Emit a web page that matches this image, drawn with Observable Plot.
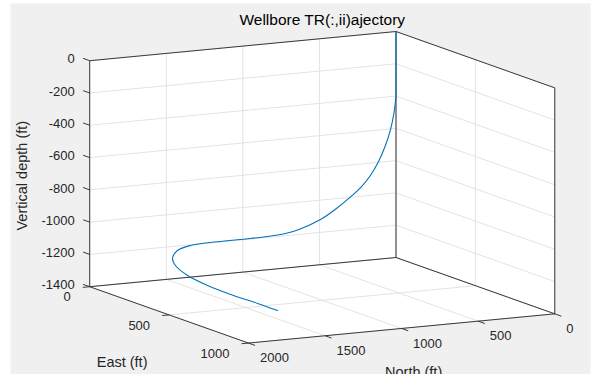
<!DOCTYPE html>
<html><head><meta charset="utf-8">
<script src="https://cdn.jsdelivr.net/npm/d3@7"></script>
<script src="https://cdn.jsdelivr.net/npm/@observablehq/plot@0.6"></script>
<style>
html,body{margin:0;padding:0;background:#fff;}
#chart svg{display:block;}
</style></head><body><div id="chart"></div>
<script>
// ---------- data ----------
const title = "Wellbore TR(:,ii)ajectory";
const eastLabel = "East (ft)", northLabel = "North (ft)", depthLabel = "Vertical depth (ft)";
const east  = [0,0,0,0,0,0,0,0,0,0,0,0,0,0,0,0,0,0,51,149,244,392,548,716,853,972];
const north = [0,0,0,3,14,36,69,114,167,225,297,389,493,643,774,950,1166,1342,1480,1614,1693,1767,1799,1803,1788,1781];
const depth = [0,-300,-400,-427,-507,-604,-700,-795,-877,-940,-998,-1061,-1120,-1171,-1191,-1196,-1197,-1204,-1205,-1208,-1211,-1215,-1219,-1222,-1225,-1228];
const eastTicks  = [0,500,1000];
const northTicks = [0,500,1000,1500,2000];
const depthTicks = [0,-200,-400,-600,-800,-1000,-1200,-1400];
const eastLim = [0,1000], northLim = [0,2000], depthLim = [-1400,0];

// ---------- 3D view (MATLAB-like azimuth / elevation) ----------
const AZ = 27.4*Math.PI/180, EL = 10.6*Math.PI/180;
const BOX = 345, BOXZ = 226, ORIGIN = [395.5, 257];
function project(e, n, z) {
  const u = (e-eastLim[0])/(eastLim[1]-eastLim[0]);
  const v = (n-northLim[0])/(northLim[1]-northLim[0]);
  const w = (z-depthLim[0])/(depthLim[1]-depthLim[0]);
  return {
    px: ORIGIN[0] + BOX*(u*Math.sin(AZ) - v*Math.cos(AZ)),
    py: ORIGIN[1] + BOX*Math.sin(EL)*(u*Math.cos(AZ) + v*Math.sin(AZ)) - BOXZ*w
  };
}
const P = (e,n,z,extra={}) => ({...project(e,n,z), ...extra});
const [E0,E1] = eastLim, [N0,N1] = northLim, [Z0,Z1] = depthLim;

// trajectory
const traj = east.map((e,i) => P(e, north[i], depth[i]));

// back planes (white)
const back = [P(E0,N1,Z1),P(E0,N0,Z1),P(E1,N0,Z1),P(E1,N0,Z0),P(E1,N1,Z0),P(E0,N1,Z0)];

// grid lines
const grid = [];
depthTicks.forEach(z => [P(E0,N1,z),P(E0,N0,z),P(E1,N0,z)].forEach(p => grid.push({...p, key:"z"+z})));
northTicks.forEach(n => [P(E0,n,Z1),P(E0,n,Z0),P(E1,n,Z0)].forEach(p => grid.push({...p, key:"n"+n})));
eastTicks.forEach(e => [P(e,N0,Z1),P(e,N0,Z0),P(e,N1,Z0)].forEach(p => grid.push({...p, key:"e"+e})));

// box edges
const edgeDefs = [
  [[E0,N1,Z1],[E0,N0,Z1]], [[E0,N0,Z1],[E1,N0,Z1]],
  [[E0,N1,Z1],[E0,N1,Z0]], [[E0,N0,Z1],[E0,N0,Z0]], [[E1,N0,Z1],[E1,N0,Z0]],
  [[E0,N1,Z0],[E0,N0,Z0]], [[E0,N0,Z0],[E1,N0,Z0]],
  [[E0,N1,Z0],[E1,N1,Z0]], [[E1,N1,Z0],[E1,N0,Z0]]
];
const edges = edgeDefs.map(([a,b]) => { const p=project(...a), q=project(...b); return {x1:p.px,y1:p.py,x2:q.px,y2:q.py}; });

// ticks
const TL = 7;
const eu = (()=>{const a=project(E0,N0,Z0),b=project(E1,N0,Z0);const dx=b.px-a.px,dy=b.py-a.py,l=Math.hypot(dx,dy);return [dx/l,dy/l];})();
const nu = (()=>{const a=project(E0,N0,Z0),b=project(E0,N1,Z0);const dx=b.px-a.px,dy=b.py-a.py,l=Math.hypot(dx,dy);return [dx/l,dy/l];})();
const zT = depthTicks.map(z => {const p=project(E0,N1,z);return {x1:p.px,y1:p.py,x2:p.px-eu[0]*TL,y2:p.py-eu[1]*TL,label:String(z),lx:p.px,ly:p.py};});
const eT = eastTicks.map(e => {const p=project(e,N1,Z0);return {x1:p.px,y1:p.py,x2:p.px+nu[0]*TL,y2:p.py+nu[1]*TL,label:String(e),lx:p.px,ly:p.py};});
const nT = northTicks.map(n => {const p=project(E1,n,Z0);return {x1:p.px,y1:p.py,x2:p.px+eu[0]*TL,y2:p.py+eu[1]*TL,label:String(n),lx:p.px,ly:p.py};});

// label anchors
const zMid = project(E0,N1,(Z0+Z1)/2);
const eMid = project((E0+E1)/2,N1,Z0);
const nMid = project(E1,(N0+N1)/2,Z0);
const tA = project(E0,N1,Z1), tC = project(E1,N0,Z1), tB = project(E0,N0,Z1);

const ink = "#262626";
const chart = Plot.plot({
  width: 594, height: 374, margin: 0,
  x: {domain:[0,594], range:[0,594], axis:null},
  y: {domain:[0,374], range:[0,374], axis:null},
  style: {fontFamily:"'Liberation Sans', Arial, Helvetica, sans-serif", fontSize:"13px", color:ink, background:"#fff"},
  marks: [
    Plot.frame({fill:"#f0f0f0", stroke:"none", insetLeft:10, insetTop:3, insetRight:4}),
    Plot.line(back, {x:"px", y:"py", fill:"#fff", stroke:"none"}),
    Plot.line(grid, {x:"px", y:"py", z:"key", stroke:"#e0e0e0", strokeWidth:0.9}),
    Plot.link(edges, {x1:"x1", y1:"y1", x2:"x2", y2:"y2", stroke:ink, strokeWidth:0.9}),
    Plot.line(traj, {x:"px", y:"py", stroke:"#0072BD", strokeWidth:1.1, curve:"catmull-rom"}),
    Plot.link([...zT, ...eT, ...nT], {x1:"x1", y1:"y1", x2:"x2", y2:"y2", stroke:ink, strokeWidth:0.9}),
    Plot.text(zT, {x:"lx", y:"ly", text:"label", textAnchor:"end", dx:-15, dy:-1.5, fontSize:13, fill:ink}),
    Plot.text(eT, {x:"lx", y:"ly", text:"label", textAnchor:"end", dx:-19, dy:10.5, fontSize:13, fill:ink}),
    Plot.text(nT, {x:"lx", y:"ly", text:"label", textAnchor:"start", dx:11.5, dy:15, fontSize:13, fill:ink}),
    Plot.text([depthLabel], {x:zMid.px, y:zMid.py, text:d=>d, rotate:-90, dx:-67, dy:2, fontSize:14.5, fill:ink}),
    Plot.text([eastLabel], {x:eMid.px, y:eMid.py, text:d=>d, dx:-47, dy:47, fontSize:14.5, fill:ink}),
    Plot.text([northLabel], {x:nMid.px, y:nMid.py, text:d=>d, dx:12, dy:44, fontSize:14.5, fill:ink}),
    Plot.text([title], {x:(tA.px+tC.px)/2, y:tB.py, text:d=>d, dy:-11, fontSize:15.5, fill:"#000"})
  ]
});
document.getElementById("chart").append(chart);
</script>
</body></html>
